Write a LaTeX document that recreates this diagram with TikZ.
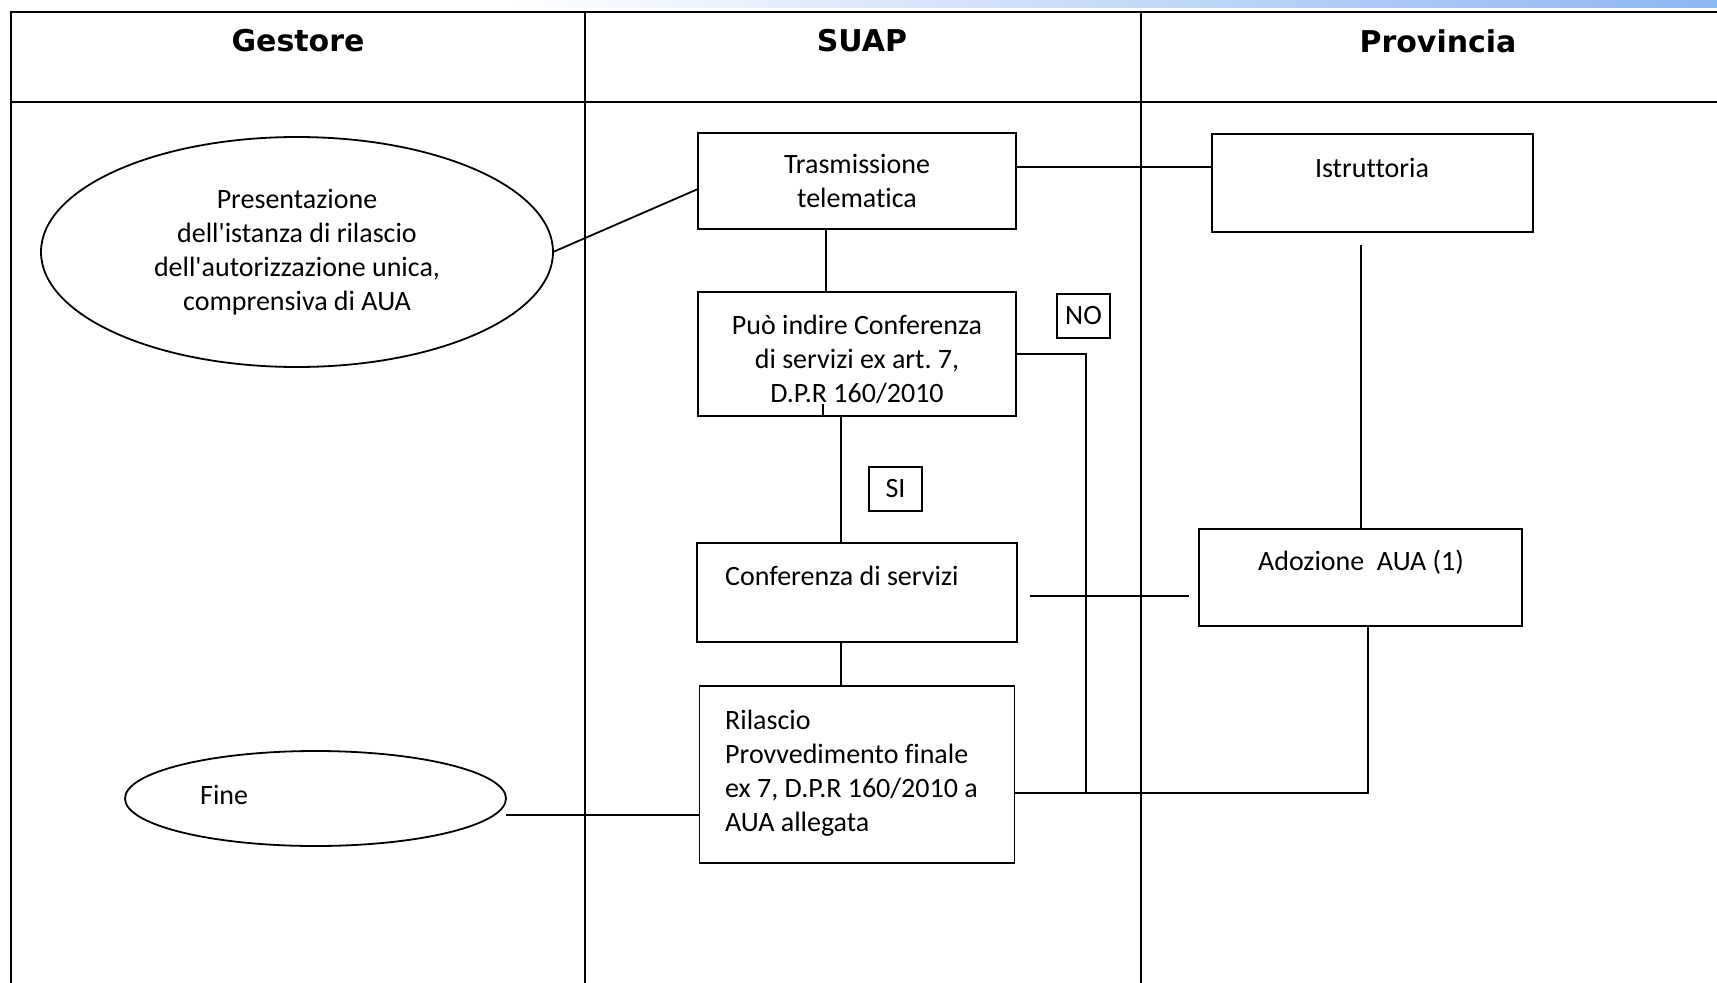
\documentclass[tikz,border=0pt]{standalone}
\usepackage{fontspec}
\setmainfont{Carlito}[Ligatures={TeX,NoCommon}]
\newfontfamily\headfont{DejaVu Sans}
\usetikzlibrary{calc, positioning, shapes.geometric}
\definecolor{stripblue}{RGB}{140,182,240}
\frenchspacing

\begin{document}
\begin{tikzpicture}[
  x=1pt, y=-1pt,
  lane/.style={line width=1.8pt},
  head/.style={font=\headfont\bfseries\fontsize{30}{36}\selectfont, inner sep=0pt},
  box/.style={
    rectangle, draw, line width=1.8pt, inner sep=0pt, outer sep=0pt,
    align=center, font=\fontsize{28}{34}\selectfont},
  oval/.style={
    ellipse, draw, line width=1.8pt, inner sep=0pt, outer sep=0pt,
    align=center, font=\fontsize{28}{34}\selectfont},
  tag/.style={box, minimum width=53pt, minimum height=44pt},
  txt/.style={inner sep=0pt, align=left, font=\fontsize{28}{34}\selectfont},
  link/.style={line width=1.8pt},
]
  \useasboundingbox (0,0) rectangle (1717,983);

  % ── Lanes ───────────────────────────────────────────────────────────────
  \shade[left color=white, right color=stripblue] (500,0) rectangle (1717,7);
  \draw[lane] (11,983) -- (11,12) -- (1717,12);
  \draw[lane] (11,102) -- (1717,102);
  \draw[lane] (585,12) -- (585,983);
  \draw[lane] (1141,12) -- (1141,983);

  \node[head] (gestore) at (298,41)  {Gestore};
  \node[head] (suap)    at (862,41)  {SUAP};
  \node[head] (prov)    at (1438,41) {Provincia};

  % ── Gestore ─────────────────────────────────────────────────────────────
  \node[oval, minimum width=512pt, minimum height=230pt] (pres) at (297,252)
      {Presentazione\\dell\textquotesingle istanza di rilascio\\
       dell\textquotesingle autorizzazione unica,\\comprensiva di AUA};
  \node[oval, minimum width=381pt, minimum height=95pt] (fine) at (315.5,798.5) {};
  \node[txt, anchor=base west] (fine-t) at (200,804) {Fine};

  % ── SUAP spine ──────────────────────────────────────────────────────────
  \node[box, minimum width=318pt, minimum height=96pt] (trasm) at (857,181)
      {Trasmissione\\telematica};
  \node[box, minimum width=318pt, minimum height=124pt, below=63pt of trasm] (puo) {};
  \node[box, minimum width=320pt, minimum height=99pt, below=127pt of puo] (conf) {};
  \node[box, minimum width=315pt, minimum height=177pt, below=44pt of conf] (ril) {};
  \node[txt, align=center] (puo-t) at (857,359)
      {Può indire Conferenza\\di servizi ex art. 7,\\D.P.R 160/2010};
  \node[txt, anchor=base west] (conf-t) at (725,585) {Conferenza di servizi};
  \node[txt, anchor=west] (ril-t) at (725,773)
      {Rilascio\\Provvedimento finale\\ex 7, D.P.R 160/2010 a\\AUA allegata};

  \node[tag] (no) at (1083.5,316) {NO};
  \node[tag] (si) at (895.5,489)  {SI};

  % ── Provincia ───────────────────────────────────────────────────────────
  \node[box, minimum width=321pt, minimum height=98pt] (istr) at (1372.5,183) {};
  \node[box, minimum width=323pt, minimum height=97pt] (adoz) at (1360.5,577.5) {};
  \node[txt, anchor=base] (istr-t) at (1372,177) {Istruttoria};
  \node[txt, anchor=base] (adoz-t) at (1361,570) {Adozione\ \ AUA (1)};

  % ── Connectors ──────────────────────────────────────────────────────────
  \draw[link] (pres.east) -- ([yshift=-8pt]trasm.west);
  \draw[link] ([yshift=14pt]trasm.east) -- ([yshift=14pt]trasm.east -| istr.west);
  \draw[link] ([xshift=-31pt]trasm.south) -- ([xshift=-31pt]puo.north);
  \draw[link] ([xshift=-34pt]puo.south) -- ++(0,-12);
  \draw[link] ([xshift=-16pt]puo.south) -- ([xshift=-16pt]puo.south |- conf.north);
  \draw[link] ([xshift=-16pt]conf.south) -- ([xshift=-16pt]conf.south |- ril.north);
  \draw[link] ($(conf.east)+(13,3.5)$) -- ($(conf.east -| adoz.west)+(-10,3.5)$);
  \draw[link] ($(istr.south -| adoz.north)+(0.5,13)$) -- ($(adoz.north)+(0.5,0)$);
  \draw[link] ($(fine.east)+(0,16.5)$) -- ($(fine.east -| ril.west)+(0,16.5)$);

  % NO branch and AUA return both meet the final box on the right
  \coordinate (nojoin) at (1086,793);
  \draw[link] (puo.east) -| (nojoin) -- (nojoin -| ril.east);
  \draw[link] ([xshift=7.5pt]adoz.south) |- (nojoin);

\end{tikzpicture}
\end{document}
